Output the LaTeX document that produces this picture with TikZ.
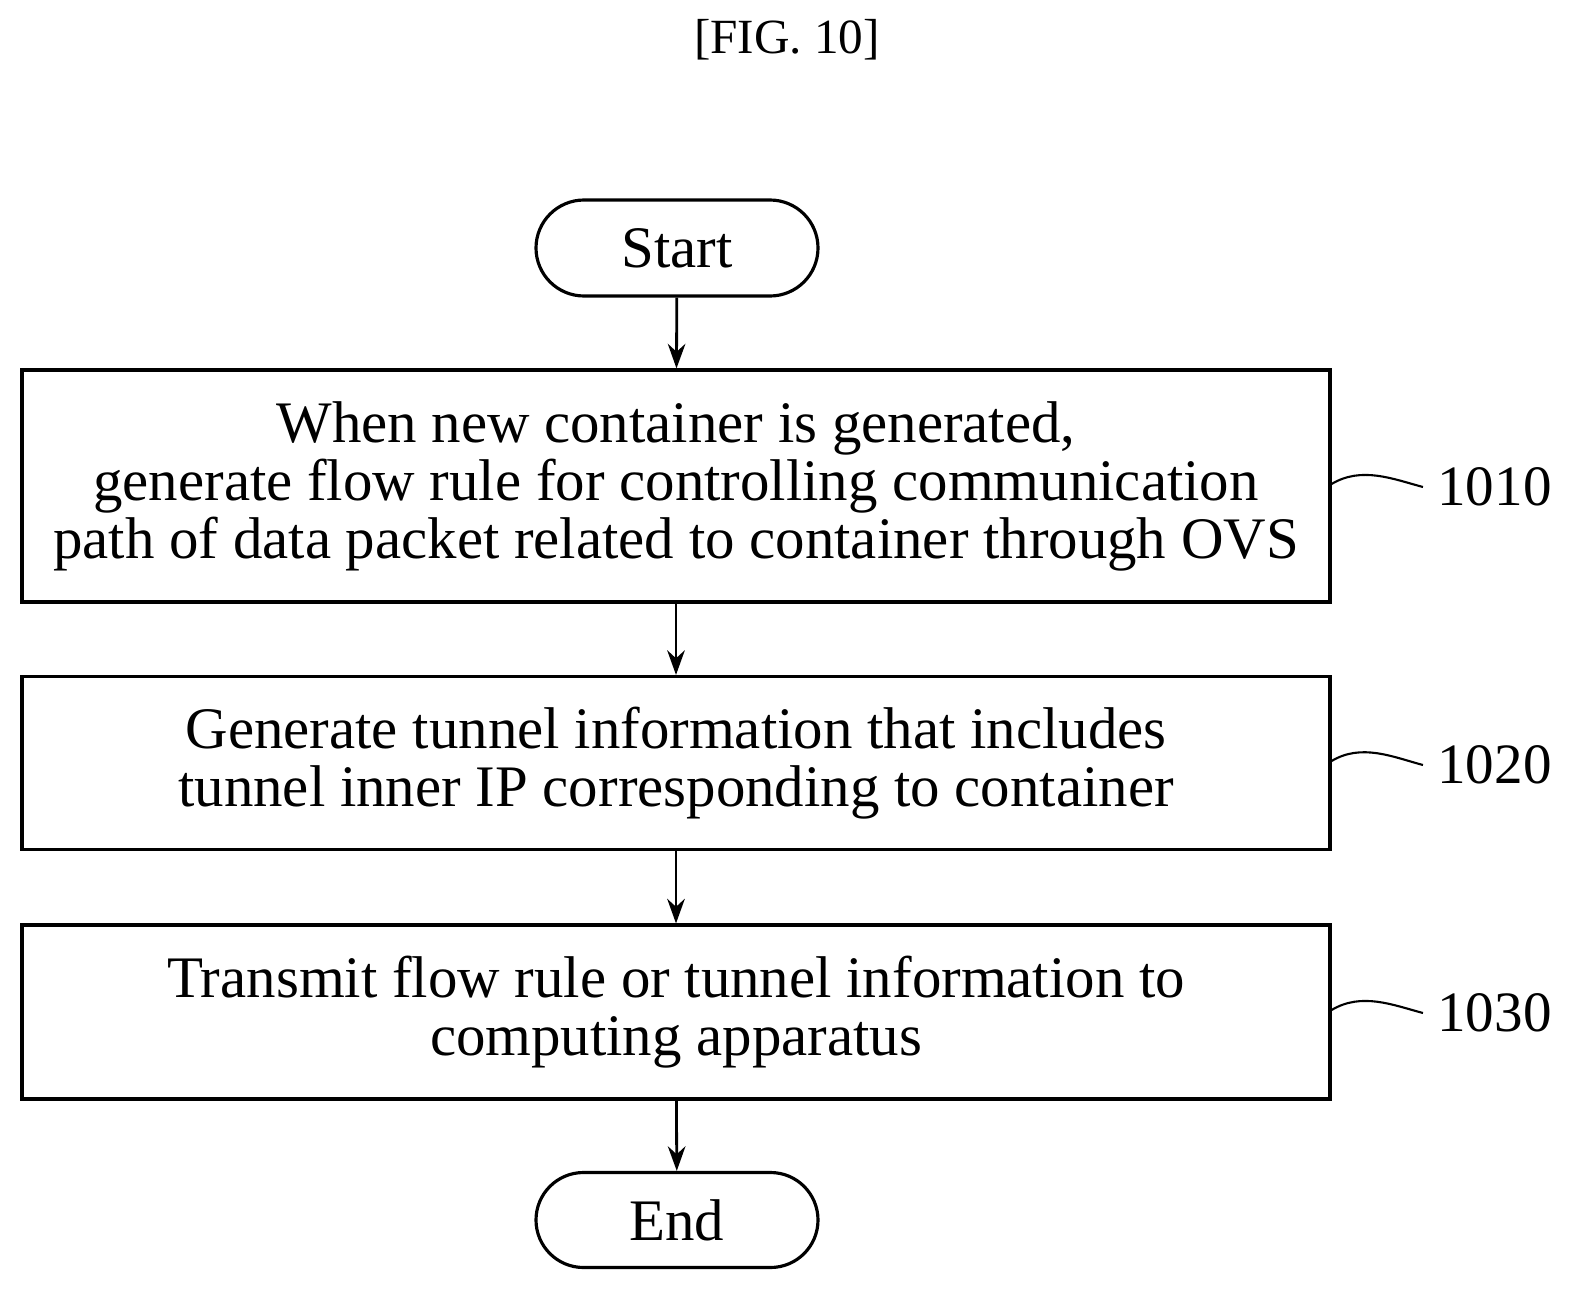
\documentclass[tikz,border=0pt]{standalone}
\usepackage{fontspec}
\setmainfont{Liberation Serif}
\usetikzlibrary{arrows.meta,shapes.misc}
\begin{document}
\begin{tikzpicture}[x=0.02cm,y=-0.02cm,
  box/.style={draw,line width=1.8pt,align=center,inner sep=0pt,font=\fontsize{33.5}{33}\selectfont},
  term/.style={draw,line width=1.8pt,rounded rectangle,inner sep=0pt,font=\fontsize{33.5}{33}\selectfont},
  arr/.style={line width=1.6pt,-{Stealth[length=14pt,width=10pt]}},
  lbl/.style={font=\fontsize{32.5}{33}\selectfont,anchor=west,inner sep=0pt},
  sq/.style={line width=1.2pt}]
\useasboundingbox (0,0) rectangle (1586,1305);
\node[font=\fontsize{28}{30}\selectfont] (title) at (787,40) {[FIG. 10]};
\node[term,minimum width=282*0.02cm,minimum height=96*0.02cm] (start) at (677,248) {Start};
\node[box,minimum width=1308*0.02cm,minimum height=232*0.02cm] (b1) at (676,486) {When new container is generated,\\generate flow rule for controlling communication\\path of data packet related to container through OVS};
\node[box,minimum width=1308*0.02cm,minimum height=173*0.02cm] (b2) at (676,763) {Generate tunnel information that includes\\tunnel inner IP corresponding to container};
\node[box,minimum width=1308*0.02cm,minimum height=174*0.02cm] (b3) at (676,1012) {Transmit flow rule or tunnel information to\\computing apparatus};
\node[term,minimum width=282*0.02cm,minimum height=95*0.02cm] (end) at (677,1220) {End};
\draw[arr] (start) -- (b1);
\draw[arr] (b1) -- (b2);
\draw[arr] (b2) -- (b3);
\draw[arr] (b3) -- (end);
\node[lbl] (l1) at (1437,487) {1010};
\node[lbl] (l2) at (1437,765) {1020};
\node[lbl] (l3) at (1437,1013) {1030};
\foreach \b/\l in {b1/l1,b2/l2,b3/l3}{
  \draw[sq] (\b.east) ++(0,-2) .. controls +(30,-18) and +(-30,-8) .. ([xshift=-8]\l.west);
}
\end{tikzpicture}
\end{document}
